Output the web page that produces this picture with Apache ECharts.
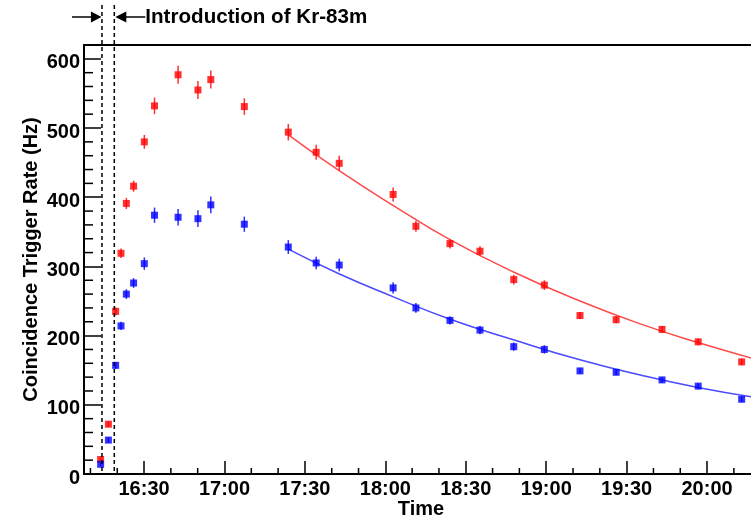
<!DOCTYPE html>
<html>
<head>
<meta charset="utf-8">
<title>Coincidence Trigger Rate</title>
<script src="https://cdn.jsdelivr.net/npm/echarts@6/dist/echarts.min.js"></script>
<style>
  html, body { margin: 0; padding: 0; background: #fff; }
  #chart { width: 751px; height: 524px; }
</style>
</head>
<body>
<div id="chart"></div>
<script>
// time is in minutes after 16:00
var times = [13.8, 16.7, 19.4, 21.4, 23.4, 26.1, 30.1, 33.9, 42.7, 50.1, 54.9, 67.4, 83.8,
  94.2, 102.8, 122.9, 131.4, 144.1, 155.3, 167.9, 179.3, 192.6, 206.1, 223.2, 236.7, 252.9];
var redRate = [21, 72, 235, 319, 391, 416, 480, 532, 577, 555, 570, 531, 494,
  465, 449, 404, 358, 333, 322, 281, 273, 229, 223, 209, 191, 162];
var redErr = [3, 4, 6, 7, 8, 8, 10, 12, 13, 13, 13, 12, 12,
  11, 11, 10, 8, 7, 7, 7, 7, 5, 5, 5, 5, 5];
var blueRate = [14, 49, 157, 214, 260, 276, 304, 374, 371, 369, 389, 361, 328,
  305, 302, 269, 240, 222, 208, 184, 180, 149, 147, 136, 127, 108];
var blueErr = [3, 4, 5, 6, 7, 7, 9, 11, 12, 12, 12, 11, 10,
  9, 9, 8, 7, 6, 6, 6, 6, 4, 4, 4, 4, 4];

// decay fits
var fitTimes = [83.8, 102.9, 123, 143.9, 167.8, 192.6, 215.1, 236.6, 259];
var redFit = [490, 438, 388, 339, 292, 250, 217, 190, 165];
var blueFit = [325, 289, 256, 224, 194, 165, 143, 125, 110];

var timeTicks = [30, 60, 90, 120, 150, 180, 210, 240];
var timeMinor = [10, 20, 40, 50, 70, 80, 100, 110, 130, 140, 160, 170, 190, 200, 220, 230, 250];
var rateTicks = [0, 100, 200, 300, 400, 500, 600];
var rateMinor = [20, 40, 60, 80, 120, 140, 160, 180, 220, 240, 260, 280, 320, 340, 360, 380,
  420, 440, 460, 480, 520, 540, 560, 580];
var krStart = [14.3, 18.9];

var FONT = "'Liberation Sans', Arial, Helvetica, sans-serif";
var xMin = 7.6, xMax = 259;

function hhmm(v) {
  var h = 16 + Math.floor(v / 60), m = Math.round(v % 60);
  return h + ':' + (m < 10 ? '0' : '') + m;
}

function errBars(rate, err) {
  return times.map(function (t, i) { return [t, rate[i] - err[i], rate[i] + err[i]]; });
}

function errRender(color) {
  return function (params, api) {
    var lo = api.coord([api.value(0), api.value(1)]);
    var hi = api.coord([api.value(0), api.value(2)]);
    return {
      type: 'line',
      shape: { x1: lo[0], y1: lo[1], x2: hi[0], y2: hi[1] },
      style: { stroke: color, lineWidth: 1.5 }
    };
  };
}

// short inward ticks; dx/dy is the tick direction in px
function minorTick(dx, dy) {
  return function (params, api) {
    var p = api.coord([api.value(0), api.value(1)]);
    return {
      type: 'line',
      shape: { x1: p[0], y1: p[1], x2: p[0] + dx, y2: p[1] + dy },
      style: { stroke: '#000', lineWidth: 1.5 }
    };
  };
}

var chart = echarts.init(document.getElementById('chart'));
var label = { color: '#000', fontFamily: FONT, fontWeight: 'bold', fontSize: 20 };
var title = { color: '#000', fontFamily: FONT, fontWeight: 'bold', fontSize: 20 };

var option = {
  animation: false,
  grid: { left: 84, right: -7, top: 45, bottom: 50, outerBoundsMode: 'none' },
  xAxis: [
    {
      type: 'value', min: xMin, max: xMax, position: 'bottom',
      name: 'Time', nameLocation: 'middle', nameGap: 25, nameMoveOverlap: false, nameTextStyle: title,
      axisLine: { lineStyle: { color: '#000', width: 2 } },
      axisTick: { inside: true, length: 13, customValues: timeTicks, lineStyle: { color: '#000', width: 1.5 } },
      axisLabel: Object.assign({ customValues: timeTicks, formatter: hhmm, margin: 5 }, label),
      splitLine: { show: false }
    },
    {
      // top frame
      type: 'value', min: xMin, max: xMax, position: 'top',
      axisLine: { lineStyle: { color: '#000', width: 2 } },
      axisTick: { show: false },
      axisLabel: { show: false },
      splitLine: { show: false }
    }
  ],
  yAxis: {
    type: 'value', min: 0, max: 620, position: 'left',
    name: 'Coincidence Trigger Rate (Hz)', nameLocation: 'middle', nameGap: 43, nameRotate: 90,
    nameMoveOverlap: false, nameTextStyle: title,
    axisLine: { lineStyle: { color: '#000', width: 2 } },
    axisTick: { inside: true, length: 17, customValues: rateTicks, lineStyle: { color: '#000', width: 1.5 } },
    // ROOT draws these a little below their ticks
    axisLabel: Object.assign({ customValues: rateTicks, margin: 4, verticalAlign: 'top', lineHeight: 8 }, label),
    splitLine: { show: false }
  },
  series: [
    {
      type: 'custom', silent: true, z: 1, renderItem: minorTick(0, -6),
      encode: { x: 0, y: 1 }, data: timeMinor.map(function (t) { return [t, 0]; })
    },
    {
      type: 'custom', silent: true, z: 1, renderItem: minorTick(9, 0),
      encode: { x: 0, y: 1 }, data: rateMinor.map(function (v) { return [xMin, v]; })
    },
    {
      type: 'line', smooth: 0.5, showSymbol: false, silent: true, z: 1,
      data: fitTimes.map(function (t, i) { return [t, redFit[i]]; }),
      lineStyle: { color: '#ff4a4a', width: 1.5 }
    },
    {
      type: 'line', smooth: 0.5, showSymbol: false, silent: true, z: 1,
      data: fitTimes.map(function (t, i) { return [t, blueFit[i]]; }),
      lineStyle: { color: '#4a4aff', width: 1.5 }
    },
    {
      type: 'custom', z: 2, renderItem: errRender('#ff3030'),
      encode: { x: 0, y: [1, 2] }, data: errBars(redRate, redErr)
    },
    {
      type: 'custom', z: 2, renderItem: errRender('#3030ff'),
      encode: { x: 0, y: [1, 2] }, data: errBars(blueRate, blueErr)
    },
    {
      type: 'scatter', symbol: 'rect', symbolSize: 7, z: 3,
      itemStyle: { color: '#ff0000' },
      data: times.map(function (t, i) { return [t, redRate[i]]; })
    },
    {
      type: 'scatter', symbol: 'rect', symbolSize: 7, z: 3,
      itemStyle: { color: '#0000ff' },
      data: times.map(function (t, i) { return [t, blueRate[i]]; })
    }
  ]
};
chart.setOption(option);

// dashed markers for the Kr-83m injection window, with arrows and caption
var xa = chart.convertToPixel({ xAxisIndex: 0 }, krStart[0]);
var xb = chart.convertToPixel({ xAxisIndex: 0 }, krStart[1]);
var yBase = chart.convertToPixel({ yAxisIndex: 0 }, 0);
var ay = 17;
var dash = { stroke: '#000', lineWidth: 1.5, lineDash: [4, 3] };
var solid = { stroke: '#000', lineWidth: 1.5 };
chart.setOption({
  graphic: [
    { type: 'line', shape: { x1: xa, y1: 5, x2: xa, y2: yBase }, style: dash, z: 10 },
    { type: 'line', shape: { x1: xb, y1: 5, x2: xb, y2: yBase }, style: dash, z: 10 },
    { type: 'line', shape: { x1: xa - 30, y1: ay, x2: xa - 9, y2: ay }, style: solid },
    { type: 'polygon', shape: { points: [[xa - 11, ay - 5.5], [xa - 11, ay + 5.5], [xa - 0.5, ay]] }, style: { fill: '#000' } },
    { type: 'polygon', shape: { points: [[xb + 12, ay - 5.5], [xb + 12, ay + 5.5], [xb + 1, ay]] }, style: { fill: '#000' } },
    { type: 'line', shape: { x1: xb + 10, y1: ay, x2: xb + 31, y2: ay }, style: solid },
    {
      type: 'text', x: xb + 31, y: ay,
      style: { text: 'Introduction of Kr-83m', fill: '#000', font: 'bold 20.6px ' + FONT, verticalAlign: 'middle', align: 'left' }
    }
  ]
});
</script>
</body>
</html>
